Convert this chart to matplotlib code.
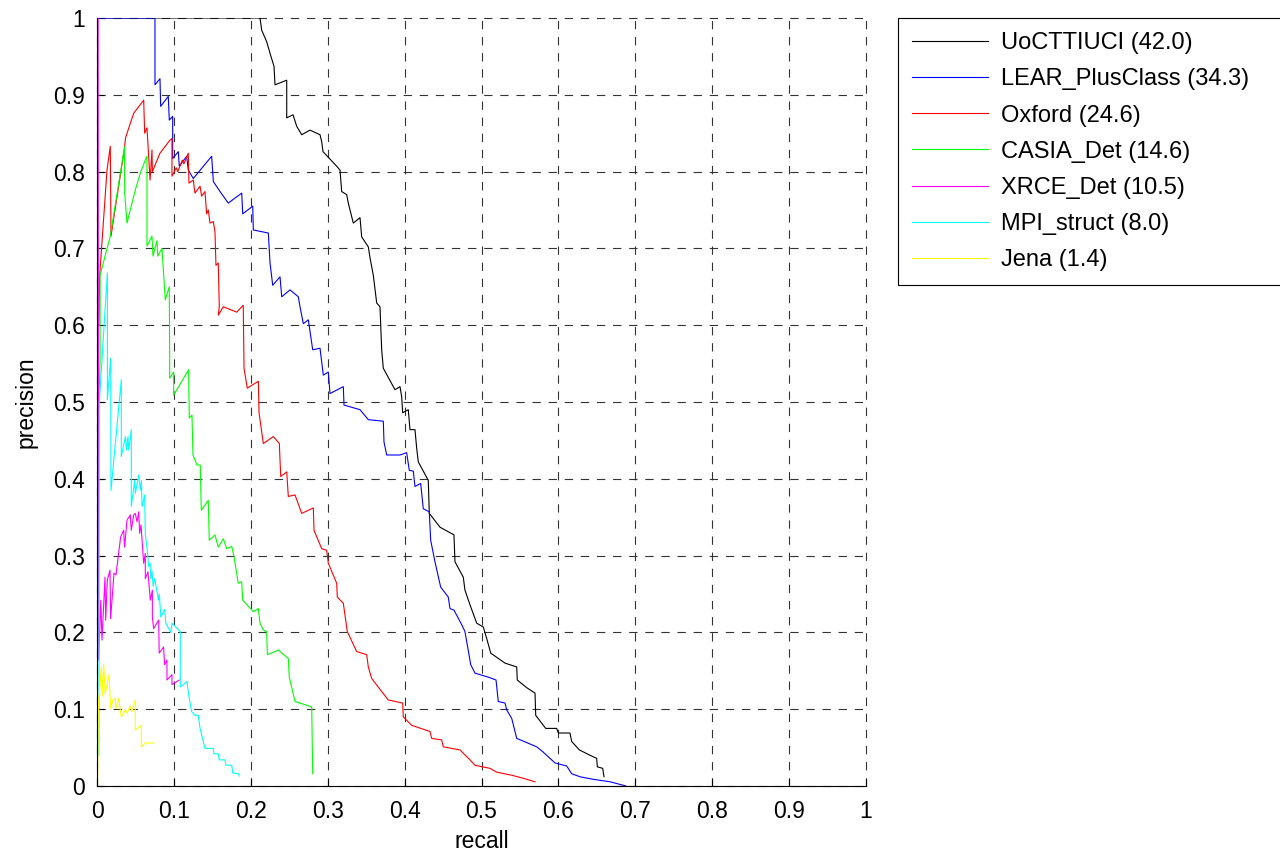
import matplotlib
matplotlib.use("Agg")
import matplotlib.pyplot as plt

plt.rcParams["font.family"] = ["Liberation Sans", "DejaVu Sans"]

# ---- precision / recall curves (read per method) ----
methods = ["UoCTTIUCI (42.0)", "LEAR_PlusClass (34.3)", "Oxford (24.6)", "CASIA_Det (14.6)",
           "XRCE_Det (10.5)", "MPI_struct (8.0)", "Jena (1.4)"]
colors = ["k", "b", "r", "#00ff00", "#ff00ff", "#00ffff", "#ffff00"]

uoc_rec = [0.0, 0.212, 0.2142, 0.2207, 0.225, 0.2302, 0.2315, 0.2467, 0.2467, 0.2549, 0.2597, 0.2662,
           0.277, 0.29, 0.2922, 0.2939, 0.3117, 0.316, 0.3182, 0.3247, 0.3268, 0.3333, 0.342, 0.3442,
           0.3528, 0.355, 0.3593, 0.3637, 0.368, 0.3702, 0.3723, 0.3875, 0.394, 0.3962, 0.3975, 0.4048,
           0.407, 0.4135, 0.4157, 0.4178, 0.4308, 0.4321, 0.446, 0.4642, 0.4655, 0.4763, 0.4785, 0.485,
           0.4938, 0.5023, 0.5068, 0.512, 0.5306, 0.5458, 0.5465, 0.5588, 0.5696, 0.5705, 0.5835, 0.5978,
           0.6, 0.615, 0.6173, 0.6272, 0.6411, 0.6498, 0.6506, 0.6576, 0.6593]
uoc_prec = [1.0, 1.0, 0.984, 0.969, 0.954, 0.937, 0.913, 0.919, 0.870, 0.874, 0.859, 0.848,
            0.854, 0.848, 0.839, 0.826, 0.807, 0.802, 0.774, 0.770, 0.759, 0.733, 0.740, 0.715,
            0.702, 0.688, 0.665, 0.629, 0.624, 0.568, 0.544, 0.516, 0.520, 0.507, 0.486, 0.490,
            0.464, 0.464, 0.440, 0.422, 0.398, 0.355, 0.337, 0.327, 0.292, 0.272, 0.255, 0.236,
            0.212, 0.207, 0.192, 0.173, 0.160, 0.155, 0.138, 0.128, 0.121, 0.092, 0.075, 0.075,
            0.069, 0.069, 0.058, 0.047, 0.040, 0.036, 0.025, 0.023, 0.012]

lear_rec = [0.0, 0.0754, 0.0754, 0.0819, 0.0828, 0.0927, 0.094, 0.0984, 0.0984, 0.1057, 0.107, 0.1166,
            0.1187, 0.1252, 0.1491, 0.1513, 0.16, 0.1707, 0.1882, 0.1895, 0.2025, 0.2033, 0.2228,
            0.225, 0.2285, 0.238, 0.2402, 0.251, 0.2618, 0.264, 0.2683, 0.2748, 0.2805, 0.29, 0.2943,
            0.3008, 0.303, 0.3203, 0.3212, 0.342, 0.3528, 0.3723, 0.3732, 0.3767, 0.394, 0.4027,
            0.4061, 0.4113, 0.4135, 0.4209, 0.4243, 0.4321, 0.4339, 0.4395, 0.4469, 0.4568, 0.459,
            0.4642, 0.4743, 0.4785, 0.486, 0.4915, 0.511, 0.5189, 0.5218, 0.5306, 0.5328, 0.5393,
            0.5458, 0.5718, 0.5804, 0.5869, 0.5956, 0.6108, 0.6173, 0.6281, 0.6454, 0.6671, 0.6879]
lear_prec = [1.0, 1.0, 0.913, 0.921, 0.885, 0.898, 0.867, 0.872, 0.817, 0.826, 0.807, 0.820,
             0.802, 0.791, 0.820, 0.787, 0.774, 0.759, 0.772, 0.745, 0.755, 0.724, 0.720,
             0.681, 0.652, 0.663, 0.637, 0.646, 0.637, 0.624, 0.602, 0.607, 0.568, 0.570, 0.535,
             0.539, 0.511, 0.520, 0.496, 0.490, 0.477, 0.475, 0.448, 0.431, 0.431, 0.434,
             0.411, 0.410, 0.390, 0.394, 0.361, 0.357, 0.320, 0.292, 0.259, 0.246, 0.231,
             0.229, 0.210, 0.201, 0.158, 0.147, 0.141, 0.138, 0.110, 0.108, 0.099, 0.088,
             0.062, 0.051, 0.044, 0.038, 0.030, 0.026, 0.016, 0.012, 0.0087, 0.0055, 0.0]

oxf_rec = [0.0025, 0.0035, 0.013, 0.0173, 0.0182, 0.0358, 0.0371, 0.0477, 0.0607, 0.062, 0.065,
           0.069, 0.0715, 0.072, 0.0819, 0.0949, 0.0975, 0.0975, 0.103, 0.105, 0.111, 0.113,
           0.1187, 0.1196, 0.1252, 0.1274, 0.134, 0.136, 0.1404, 0.1426, 0.1447, 0.147, 0.1512,
           0.1534, 0.1547, 0.1577, 0.159, 0.1577, 0.1642, 0.1817, 0.1902, 0.1912, 0.1954, 0.2098,
           0.2107, 0.2163, 0.2293, 0.2371, 0.2389, 0.2467, 0.2488, 0.2575, 0.2662, 0.2813, 0.2822,
           0.2922, 0.2987, 0.3008, 0.3117, 0.3125, 0.3203, 0.3255, 0.3377, 0.3507, 0.3528, 0.3572,
           0.3702, 0.3788, 0.3975, 0.3983, 0.4092, 0.433, 0.4352, 0.4482, 0.4503, 0.472, 0.485,
           0.4915, 0.511, 0.5198, 0.5393, 0.5544, 0.5696]
oxf_prec = [0.60, 0.665, 0.802, 0.833, 0.716, 0.831, 0.844, 0.876, 0.893, 0.850, 0.857,
            0.789, 0.828, 0.800, 0.824, 0.841, 0.843, 0.794, 0.805, 0.800, 0.815, 0.810,
            0.824, 0.785, 0.789, 0.772, 0.781, 0.768, 0.774, 0.745, 0.750, 0.733, 0.735,
            0.722, 0.678, 0.681, 0.624, 0.613, 0.624, 0.617, 0.626, 0.544, 0.518, 0.527,
            0.486, 0.446, 0.455, 0.446, 0.403, 0.409, 0.377, 0.379, 0.355, 0.362, 0.333,
            0.309, 0.307, 0.290, 0.264, 0.246, 0.238, 0.201, 0.175, 0.171, 0.155, 0.140,
            0.123, 0.112, 0.108, 0.090, 0.079, 0.071, 0.062, 0.060, 0.051, 0.047, 0.034,
            0.027, 0.023, 0.018, 0.014, 0.010, 0.0055]

casia_rec = [0.0025, 0.004, 0.004, 0.0173, 0.0358, 0.036, 0.039, 0.0498, 0.0563, 0.0628, 0.065,
             0.065, 0.0715, 0.0728, 0.078, 0.079, 0.0845, 0.0888, 0.094, 0.0945, 0.0945, 0.0997,
             0.0997, 0.1191, 0.12, 0.1235, 0.1248, 0.130, 0.1343, 0.1356, 0.1447, 0.146, 0.1534,
             0.1577, 0.1642, 0.1686, 0.1752, 0.1781, 0.1837, 0.1881, 0.1895, 0.2033, 0.2098, 0.212,
             0.2163, 0.2207, 0.2215, 0.2358, 0.2488, 0.25, 0.2575, 0.2792, 0.2805]
casia_prec = [0.50, 0.555, 0.665, 0.716, 0.832, 0.772, 0.733, 0.776, 0.798, 0.815, 0.820,
              0.703, 0.716, 0.690, 0.710, 0.690, 0.700, 0.633, 0.650, 0.555, 0.531, 0.539,
              0.509, 0.542, 0.479, 0.483, 0.431, 0.418, 0.418, 0.359, 0.372, 0.320, 0.327,
              0.311, 0.322, 0.309, 0.312, 0.299, 0.264, 0.266, 0.242, 0.227, 0.231, 0.212,
              0.203, 0.201, 0.171, 0.177, 0.166, 0.142, 0.110, 0.103, 0.016]

xrce_rec = [0.0015, 0.0021, 0.005, 0.0065, 0.0104, 0.0113, 0.0134, 0.0169, 0.0177, 0.0221, 0.0247,
            0.0286, 0.0307, 0.0346, 0.0359, 0.039, 0.0433, 0.0446, 0.0477, 0.0498, 0.052, 0.0542,
            0.0555, 0.0572, 0.0607, 0.0628, 0.0628, 0.0663, 0.0693, 0.072, 0.072, 0.0736, 0.0802,
            0.0809, 0.0866, 0.0879, 0.091, 0.091, 0.0975, 0.0975, 0.107]
xrce_prec = [1.0, 0.164, 0.242, 0.190, 0.272, 0.216, 0.268, 0.281, 0.218, 0.277, 0.275,
             0.307, 0.324, 0.333, 0.311, 0.346, 0.353, 0.333, 0.353, 0.355, 0.344, 0.357,
             0.329, 0.340, 0.290, 0.303, 0.270, 0.279, 0.242, 0.255, 0.220, 0.205, 0.216,
             0.173, 0.181, 0.158, 0.164, 0.138, 0.145, 0.132, 0.138]

mpi_rec = [0.0025, 0.003, 0.0135, 0.0135, 0.0178, 0.0182, 0.0316, 0.0316, 0.0369, 0.0382, 0.0403,
           0.0412, 0.0446, 0.0446, 0.049, 0.0499, 0.0542, 0.0564, 0.0577, 0.0586, 0.062, 0.0628,
           0.065, 0.066, 0.0671, 0.069, 0.07, 0.0715, 0.073, 0.075, 0.08, 0.081, 0.083, 0.088,
           0.0895, 0.096, 0.0975, 0.1083, 0.1083, 0.117, 0.119, 0.123, 0.1274, 0.1317, 0.134,
           0.1404, 0.1512, 0.152, 0.1577, 0.159, 0.1664, 0.1678, 0.1752, 0.1765, 0.1837, 0.185]
mpi_prec = [0.04, 0.50, 0.668, 0.503, 0.557, 0.385, 0.529, 0.429, 0.455, 0.4375, 0.455,
            0.4375, 0.464, 0.364, 0.398, 0.381, 0.405, 0.385, 0.398, 0.364, 0.379, 0.329,
            0.310, 0.300, 0.286, 0.290, 0.270, 0.280, 0.260, 0.270, 0.242, 0.250, 0.220, 0.230,
            0.212, 0.200, 0.212, 0.201, 0.129, 0.136, 0.120, 0.097, 0.092, 0.092, 0.075,
            0.049, 0.049, 0.042, 0.042, 0.034, 0.034, 0.027, 0.027, 0.017, 0.016, 0.013]

jena_rec = [0.0007, 0.002, 0.0039, 0.0056, 0.0069, 0.0087, 0.0108, 0.0156, 0.0178, 0.0208, 0.0238,
            0.0247, 0.0282, 0.0316, 0.0368, 0.039, 0.0433, 0.0455, 0.0498, 0.0498, 0.0576, 0.0576,
            0.0628, 0.0737]
jena_prec = [0.0, 0.112, 0.129, 0.155, 0.117, 0.158, 0.120, 0.145, 0.101, 0.112, 0.114,
             0.101, 0.114, 0.090, 0.099, 0.095, 0.104, 0.097, 0.112, 0.073, 0.079, 0.051,
             0.056, 0.056]

curves = [(uoc_rec, uoc_prec), (lear_rec, lear_prec), (oxf_rec, oxf_prec), (casia_rec, casia_prec),
          (xrce_rec, xrce_prec), (mpi_rec, mpi_prec), (jena_rec, jena_prec)]

ticks = [i / 10 for i in range(11)]
tick_labels = ["0", "0.1", "0.2", "0.3", "0.4", "0.5", "0.6", "0.7", "0.8", "0.9", "1"]

# ---- figure ----
fig = plt.figure(figsize=(12.8, 8.55), dpi=100)
ax = fig.add_axes([97 / 1280, 1 - 786 / 855, 769 / 1280, 768 / 855])

for (rec, prec), name, col in zip(curves, methods, colors):
    ax.plot(rec, prec, color=col, lw=0.8, label=name)

ax.set_xlim(0, 1)
ax.set_ylim(0, 1)
ax.set_xticks(ticks)
ax.set_xticklabels(tick_labels)
ax.set_yticks(ticks)
ax.set_yticklabels(tick_labels)
ax.tick_params(direction="in", length=5, width=0.8, labelsize=16.5)
ax.tick_params(axis="x", pad=10)
ax.tick_params(axis="y", pad=9)
ax.grid(True, color="#333333", linestyle=(0, (7.5, 7)), linewidth=0.8)
for gl in ax.get_xgridlines() + ax.get_ygridlines():
    gl.set_clip_on(False)
ax.spines["top"].set_visible(False)
ax.spines["right"].set_visible(False)
ax.set_axisbelow(True)

ax.set_xlabel("recall", fontsize=16.5, labelpad=5)
ax.set_ylabel("precision", fontsize=16.5, labelpad=11)

# legend box runs off the right edge of the figure
leg = ax.legend(loc="upper left", bbox_to_anchor=(898 / 1280, 0.0, 420 / 1280, 1 - 18 / 855),
                bbox_transform=fig.transFigure, mode="expand", fontsize=17, frameon=True,
                fancybox=False, edgecolor="k", framealpha=1, handlelength=3.2, handletextpad=0.55,
                labelspacing=0.6, borderpad=0.6, borderaxespad=0)
leg.get_frame().set_linewidth(0.8)

fig.savefig("out.png", dpi=100)
